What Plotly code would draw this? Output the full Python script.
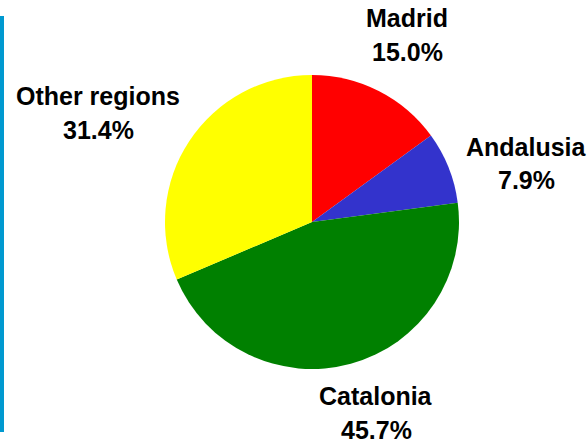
import plotly.graph_objects as go

# Share of total by region
regions = ["Madrid", "Andalusia", "Catalonia", "Other regions"]
shares = [15.0, 7.9, 45.7, 31.4]
colors = ["#FF0000", "#3333CC", "#008000", "#FFFF00"]

W, H = 587, 442

# label anchor points (pixel centers: name line, value line)
label_x = [407, 526, 376, 98]
name_y = [17, 146, 395, 95]
value_y = [51, 179, 429, 129]

fig = go.Figure()
fig.add_trace(go.Pie(
    labels=regions,
    values=shares,
    sort=False,
    direction="clockwise",
    rotation=0,
    marker=dict(colors=colors, line=dict(width=0)),
    textinfo="none",
    hoverinfo="label+percent",
    showlegend=False,
    domain=dict(x=[165 / W, 459 / W], y=[(H - 369) / H, (H - 75) / H]),
))

font = dict(family="Liberation Sans, Arial, sans-serif", size=25, color="#000000")
for name, v, x, yn, yv in zip(regions, shares, label_x, name_y, value_y):
    for txt, y in ((f"<b>{name}</b>", yn), (f"<b>{v:.1f}%</b>", yv)):
        fig.add_annotation(
            text=txt, x=x / W, y=1 - (y + 1) / H, xref="paper", yref="paper",
            xanchor="center", yanchor="middle", showarrow=False, font=font,
            borderpad=0,
        )

# vertical accent bar on the left edge
fig.add_shape(type="rect", xref="paper", yref="paper",
              x0=0, x1=4 / W, y0=1 - 432 / H, y1=1 - 16 / H,
              fillcolor="#0099D0", line=dict(width=0))

fig.update_layout(
    width=W, height=H,
    margin=dict(l=0, r=0, t=0, b=0),
    paper_bgcolor="white", plot_bgcolor="white",
)
fig.write_html("out.html")
